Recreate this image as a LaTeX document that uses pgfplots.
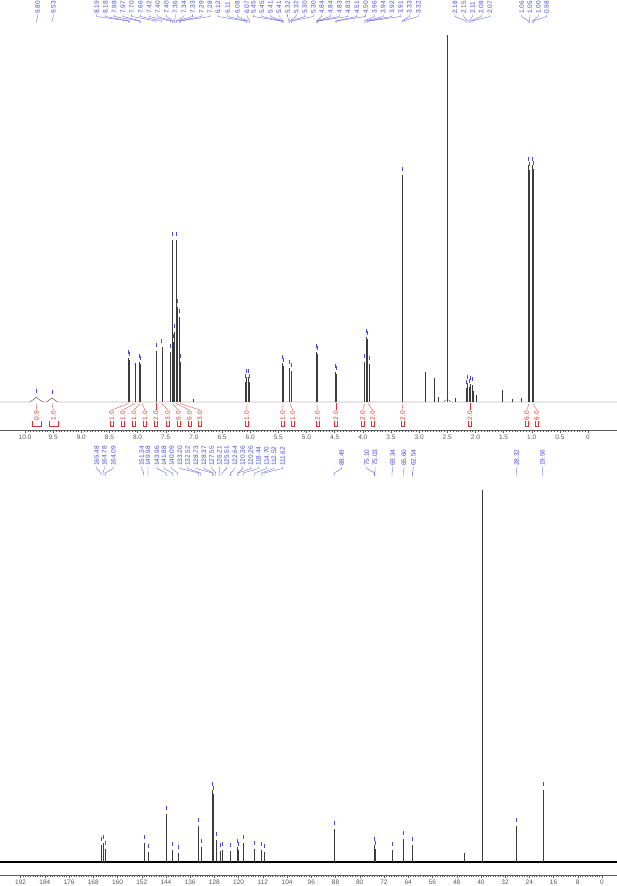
\documentclass[border=0pt]{standalone}
\usepackage{pgfplots}
\pgfplotsset{compat=1.18}
\usepackage{fontspec}
\setmainfont{Liberation Sans}
\definecolor{pk}{RGB}{75,75,225}
\definecolor{ig}{RGB}{225,50,50}
\definecolor{tk}{RGB}{90,90,90}
\definecolor{sp}{RGB}{60,60,60}

\pgfplotsset{nmr/.style={
    scale only axis, width=617pt,
    axis x line*=bottom, axis y line=none,
    x dir=reverse,
    axis line style={draw=tk, line width=0.3pt},
    tick align=outside, major tick length=3.5pt, minor tick length=2pt,
    minor x tick num=9,
    tick style={draw=tk, line width=0.3pt},
    /pgf/number format/assume math mode=true,
    xticklabel style={font=\fontsize{6.5}{7}\selectfont, text=tk, inner sep=1pt},
    clip=false,
}}
\tikzset{
    lbl/.style={font=\fontsize{6.5}{7}\selectfont, text=pk, rotate=90, anchor=west, inner sep=0pt},
    itg/.style={font=\fontsize{6.5}{7}\selectfont, text=ig, rotate=90, anchor=west, inner sep=0pt},
}

\begin{document}
\begin{tikzpicture}
% 13C spectrum
\begin{axis}[nmr, at={(0pt,0pt)}, anchor=south west, height=435pt,
    xmin=-4.95, xmax=198.8, ymin=-13, ymax=422,
    xtick={0,8,...,192}]
    \addplot[black, line width=1.1pt] coordinates {(198.8,0) (-4.95,0)};
    \addplot[ycomb, sp, line width=0.4pt, no marks] coordinates {
        (165.48,17) (164.78,19) (164.09,13) (151.34,19) (149.98,10)
        (143.96,48) (141.88,12) (140.09,9) (133.20,36) (132.52,15)
        (128.73,72) (128.37,68) (127.55,22) (126.21,11) (125.51,12)
        (122.64,11) (120.36,15) (120.26,12) (118.44,19) (114.70,13)
        (112.52,12) (111.62,10) (88.49,33) (75.10,17) (75.03,13)
        (69.34,12) (65.60,23) (62.54,17) (45.6,9)
        (39.65,300) (39.52,372) (39.40,300)
        (28.32,36) (19.56,72)
    };
    \addplot[only marks, mark=|, pk, mark size=2pt] coordinates {
        (165.48,23) (164.78,25) (164.09,19) (151.34,25) (149.98,16)
        (143.96,54) (141.88,18) (140.09,15) (133.20,42) (132.52,21)
        (128.73,78) (128.37,74) (127.55,28) (126.21,17) (125.51,18)
        (122.64,17) (120.36,21) (120.26,18) (118.44,25) (114.70,19)
        (112.52,18) (111.62,16) (88.49,39) (75.10,23) (75.03,19)
        (69.34,18) (65.60,29) (62.54,23) (28.32,42) (19.56,78)
    };
\end{axis}

% 1H spectrum
\begin{axis}[nmr, at={(0pt,445pt)}, anchor=south west, height=430pt,
    xmin=-0.515, xmax=10.444, ymin=-28, ymax=402,
    xtick={0,0.5,1,1.5,2,2.5,3,3.5,4,4.5,5,5.5,6,6.5,7,7.5,8,8.5,9,9.5,10},
    xticklabels={0,0.5,1.0,1.5,2.0,2.5,3.0,3.5,4.0,4.5,5.0,5.5,6.0,6.5,7.0,7.5,8.0,8.5,9.0,9.5,10.0}]
    \addplot[sp, line width=0.4pt] coordinates {
        (10.444,0) (9.92,0) (9.86,2) (9.80,5) (9.74,2) (9.68,0) (9.62,0)
        (9.57,2) (9.52,4) (9.47,2) (9.42,0) (2.56,0) (2.53,2)
        (2.47,2) (2.44,0) (-0.515,0)
    };
    \addplot[ycomb, sp, line width=0.35pt, no marks] coordinates {
        (8.162,44) (8.144,42) (8.046,39) (7.966,40) (7.948,38) (7.673,51)
        (7.572,55) (7.416,50) (7.384,162) (7.362,60) (7.345,70) (7.318,162)
        (7.304,95) (7.259,85) (7.242,40) (7.016,3)
        (6.092,20) (6.066,25) (6.039,25) (6.012,20)
        (5.435,39) (5.417,36) (5.302,34) (5.275,31)
        (4.822,50) (4.805,48) (4.485,30) (4.467,28)
        (3.970,40) (3.943,65) (3.917,63) (3.890,38) (3.295,227)
        (2.895,30) (2.735,24) (2.664,5) (2.504,367) (2.362,4)
        (2.167,14) (2.140,19) (2.114,15) (2.087,18) (2.060,17) (2.034,11)
        (1.989,7) (1.528,12) (1.350,3) (1.190,4)
        (1.057,237) (1.039,232) (0.986,237) (0.968,233)
    };
    \addplot[only marks, mark=|, pk, mark size=2pt] coordinates {
        (9.80,11) (9.52,10) (8.162,50) (8.144,48) (7.966,46) (7.948,44)
        (7.673,57) (7.572,61) (7.416,56) (7.384,168) (7.362,66) (7.345,76)
        (7.318,168) (7.304,101) (7.259,91) (7.242,46)
        (6.092,26) (6.066,31) (6.039,31) (6.012,26)
        (5.435,45) (5.417,42) (5.302,40) (5.275,37)
        (4.822,56) (4.805,54) (4.485,36) (4.467,34)
        (3.970,46) (3.943,71) (3.917,69) (3.890,44) (3.295,233)
        (2.167,20) (2.140,25) (2.114,21) (2.087,24) (2.060,23)
        (1.057,243) (1.039,238) (0.986,243) (0.968,239)
    };
\end{axis}

% peak labels, integrals (pixel frame, y downwards)
\begin{scope}[shift={(0pt,875pt)}, x=1pt, y=-1pt]
    \foreach \lx/\t/\px in {
        37.7/9.80/36.5, 53.3/9.53/52,
        96.7/8.19/128.5, 105.4/8.18/129.5, 114.1/7.98/139.5, 122.9/7.97/140.5,
        131.6/7.70/156, 140.3/7.66/161.7, 149.0/7.42/170.5, 157.7/7.40/172.3,
        166.5/7.40/173.5, 175.2/7.36/174.5, 183.9/7.34/176, 192.6/7.33/176.8,
        201.3/7.29/179.3, 210.0/7.28/180.3,
        218/6.12/245, 227.7/6.11/246.5, 237.3/6.08/248, 247/6.07/249.5,
        253.3/5.45/281.5, 261.9/5.45/282, 270.4/5.41/283, 279.0/5.41/283.5,
        287.6/5.32/289, 296.1/5.32/289.5, 304.7/5.30/291, 313.3/5.30/291.5,
        321.7/4.84/316.5, 330.5/4.84/317, 339.3/4.83/317.5, 348.0/4.83/318,
        356.8/4.51/335.5, 365.6/4.50/336.5, 374.4/3.96/364.5, 383.2/3.94/366,
        391.9/3.92/367.5, 400.7/3.91/369, 409.5/3.33/402, 418.3/3.32/403,
        455/2.18/466, 463.75/2.15/467.5, 472.5/2.11/469, 481.25/2.08/470.5, 490/2.07/472,
        521.7/1.06/528.5, 530/1.05/529.5, 538.3/1.00/532.5, 546.7/0.98/533.5}{
        \node[lbl] at (\lx,14) {\t};
        \draw[pk, line width=0.3pt] (\lx,14.5) -- (\lx,16.5) -- (\px,21) -- (\px,23);
    }
    \foreach \lx/\t/\px/\w in {
        36.7/0.9/36.5/4.5, 53.3/1.0/52/4.5, 111.7/1.0/128.5/1.5, 122.7/1.0/135/1.5,
        134/1.0/140/1.5, 145/1.0/142/1.5, 156/2.0/156/1.5, 167.7/3.0/161.7/1.5,
        178.3/6.0/172.3/1.5, 189.3/6.0/176/1.5, 200/3.0/180/1.5, 246.7/1.0/247/1.5,
        282.7/1.0/283/1.5, 292.7/1.0/290/1.5, 317.3/2.0/317/1.5, 336/2.0/336/1.5,
        362.7/2.0/365/1.5, 372.7/2.0/368/1.5, 402.7/2.0/402.5/1.5, 470/2.0/470/1.5,
        526.7/6.0/529/1.5, 536.7/6.0/533/1.5}{
        \node[itg] at (\lx,420.5) {\t};
        \draw[ig, line width=0.3pt] (\lx-\w,421.5) -- (\lx-\w,426.5) -- (\lx+\w,426.5) -- (\lx+\w,421.5);
        \draw[ig, line width=0.3pt] (\px,403.5) -- (\lx,410);
    }
    \foreach \lx/\t/\px in {
        96.7/165.48/100.9, 104.3/164.78/103.0, 113.3/164.09/105.1,
        141.7/151.34/143.7, 148/149.98/147.9, 157/143.96/166.1, 164/141.88/172.4,
        171.7/140.09/177.8, 180/133.20/198.7, 187.7/132.52/200.7, 196/128.73/212.2,
        204/128.37/213.3, 211.7/127.55/215.8, 219.3/126.21/219.8, 226.7/125.51/221.9,
        235/122.64/230.6, 242.7/120.36/237.5, 250.7/120.26/237.9, 258.3/118.44/243.4,
        266.7/114.70/254.7, 274/112.52/261.3, 282.7/111.62/264.0,
        341.7/88.49/334.1, 366.7/75.10/374.6, 375/75.03/374.8, 392.7/69.34/392,
        404/65.60/403.4, 413.3/62.54/412.6, 516.7/28.32/516.2, 542.3/19.56/542.8}{
        \node[lbl] at (\lx,466) {\t};
        \draw[pk, line width=0.3pt] (\lx,466.5) -- (\lx,468.5) -- (\px,473) -- (\px,476);
    }
\end{scope}

\pgfresetboundingbox
\path[use as bounding box] (0pt,-11pt) rectangle (617pt,875pt);
\end{tikzpicture}
\end{document}
